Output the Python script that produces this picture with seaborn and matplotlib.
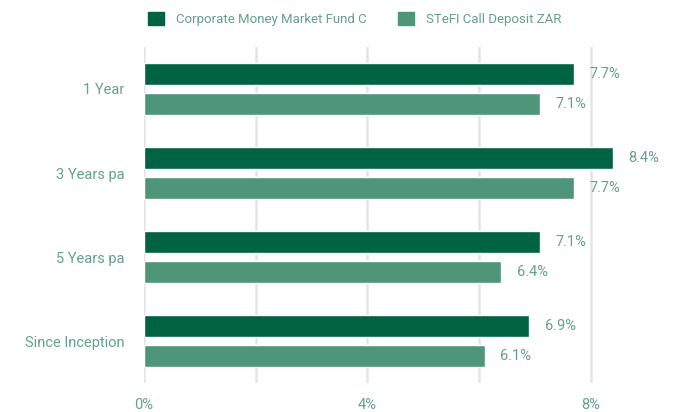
import pandas as pd
import matplotlib
matplotlib.use("Agg")
import matplotlib.pyplot as plt
import seaborn as sns

categories = ["1 Year", "3 Years pa", "5 Years pa", "Since Inception"]
fund = [7.7, 8.4, 7.1, 6.9]
benchmark = [7.1, 7.7, 6.4, 6.1]
series = ["Corporate Money Market Fund C", "STeFI Call Deposit ZAR"]

df = pd.DataFrame({
    "Period": categories * 2,
    "Return": fund + benchmark,
    "Series": [series[0]] * 4 + [series[1]] * 4,
})

sns.set_theme(style="white")
plt.rcParams["font.family"] = ["Roboto", "DejaVu Sans"]
text_col = "#66a088"
palette = {series[0]: "#006341", series[1]: "#4e957a"}

fig = plt.figure(figsize=(6.73, 4.12), dpi=100)
ax = fig.add_axes([0.214, 0.07, 0.77, 0.816])

sns.barplot(data=df, y="Period", x="Return", hue="Series", palette=palette,
            orient="h", width=0.714, gap=0.266, saturation=1, ax=ax, legend=False)

ax.set_xlim(0, 9.28)
ax.set_xticks([0, 2, 4, 6, 8])
ax.set_xticklabels(["0%", "", "4%", "", "8%"])
ax.grid(axis="x", color="#e5e5e5", linewidth=1.8)
ax.set_axisbelow(True)
for s in ax.spines.values():
    s.set_visible(False)
ax.tick_params(axis="x", length=0, pad=11, labelcolor=text_col, labelsize=10.5)
ax.tick_params(axis="y", length=0, pad=14, labelcolor=text_col, labelsize=10.5)
ax.set_xlabel("")
ax.set_ylabel("")

for cont in ax.containers:
    ax.bar_label(cont, labels=[f"{v:.1f}%" for v in cont.datavalues], padding=11,
                 color=text_col, fontsize=10.5)

handles = [plt.Rectangle((0, 0), 1, 1, color=palette[s]) for s in series]
fig.legend(handles, series, loc="upper center", bbox_to_anchor=(0.527, 1.0), ncol=2,
           frameon=False, handlelength=1.2, handleheight=1.2, columnspacing=2.4,
           handletextpad=0.9, labelcolor=text_col, prop={"size": 9.5})

fig.savefig("out.png", dpi=100)
